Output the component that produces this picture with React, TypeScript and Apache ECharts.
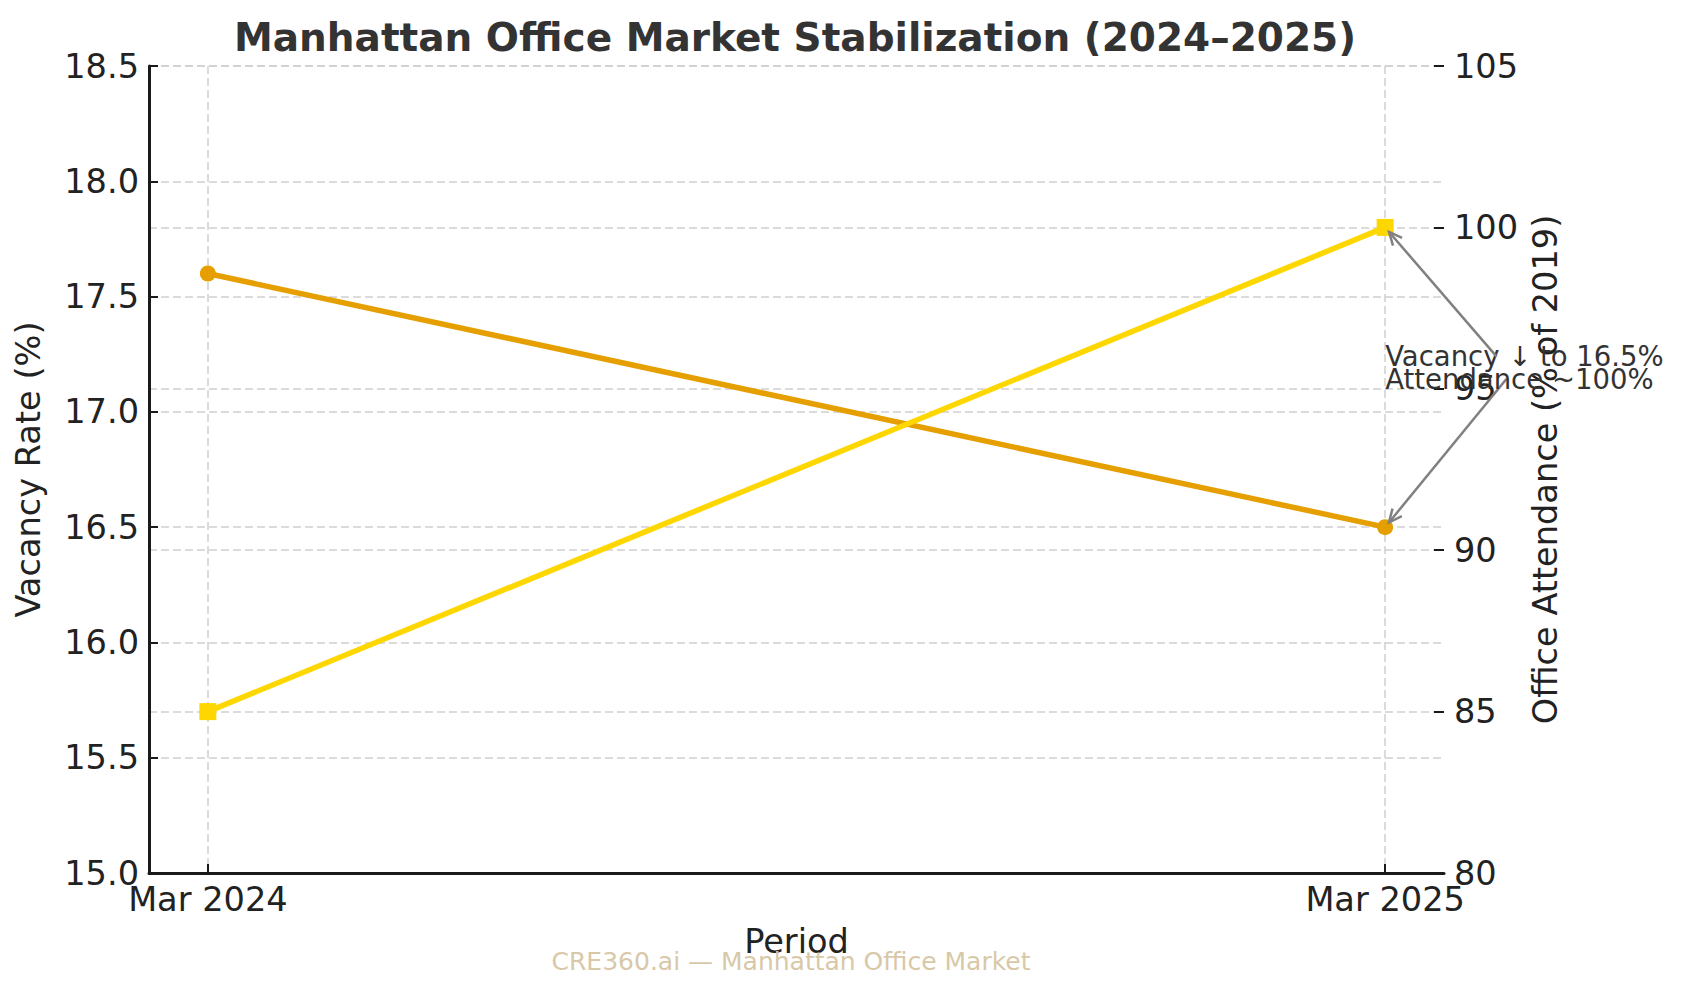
import React, { useEffect, useRef } from 'react';
import * as echarts from 'echarts';

const periods = ['Mar 2024', 'Mar 2025'];
const vacancy = [17.6, 16.5];
const attendance = [85, 100];
const vacancyRange = [15, 18.5, 0.5];
const attendanceRange = [80, 105, 5];

// annotation texts, anchored in data coords (left text baseline), arrow target
const notes = [
	{ text: 'Vacancy \u2193 to 16.5%', at: [1, 17.2], axis: 0, target: [1, 16.5], halfW: 140 },
	{ text: 'Attendance ~100%', at: [1, 95], axis: 1, target: [1, 100], halfW: 131 },
];

const FONT = '"DejaVu Sans", "Noto Sans", sans-serif';
const INK = '#222222';
const BASE = 33.6;
const GRID = { color: '#cfcfcf', type: [8, 4] as number[], width: 1.5 };

const App: React.FC = () => {
	const chartContainer = useRef<HTMLDivElement | null>(null);

	useEffect(() => {
		document.body.style.margin = '0';
		if (!chartContainer.current) return;
		const chart = echarts.init(chartContainer.current, null, { renderer: 'svg' });

		const option: any = {
			animation: false,
			backgroundColor: '#ffffff',
			textStyle: { fontFamily: FONT },
			title: {
				text: 'Manhattan Office Market Stabilization (2024\u20132025)',
				left: 790,
				textAlign: 'center',
				top: 13,
				textStyle: { fontSize: 39, fontWeight: 'bold', color: '#333333', fontFamily: FONT },
			},
			grid: { left: 149, right: 240, top: 66, bottom: 122 },
			xAxis: {
				type: 'value',
				min: -0.05,
				max: 1.05,
				name: 'Period',
				nameLocation: 'middle',
				nameGap: 51,
				nameTextStyle: { fontSize: BASE, color: INK, fontFamily: FONT },
				axisLine: { show: true, onZero: false, lineStyle: { color: '#1a1a1a', width: 3 } },
				axisTick: { show: true, inside: true, length: 9, customValues: [0, 1], lineStyle: { color: '#1a1a1a', width: 2 } },
				axisLabel: {
					customValues: [0, 1],
					fontSize: BASE,
					color: INK,
					margin: 9,
					formatter: (v: number) => periods[Math.round(v)] ?? '',
				},
				splitLine: { show: true, lineStyle: GRID },
			},
			yAxis: [
				{
					type: 'value',
					min: vacancyRange[0],
					max: vacancyRange[1],
					interval: vacancyRange[2],
					name: 'Vacancy Rate (%)',
					nameLocation: 'middle',
					nameRotate: 90,
					nameGap: 104,
					nameTextStyle: { fontSize: BASE, color: INK, fontFamily: FONT },
					axisLine: { show: true, onZero: false, lineStyle: { color: '#1a1a1a', width: 3 } },
					axisTick: { show: true, inside: true, length: 9, lineStyle: { color: '#1a1a1a', width: 2 } },
					axisLabel: { fontSize: BASE, color: INK, margin: 10, formatter: (v: number) => v.toFixed(1) },
					splitLine: { show: true, lineStyle: GRID },
				},
				{
					type: 'value',
					position: 'right',
					min: attendanceRange[0],
					max: attendanceRange[1],
					interval: attendanceRange[2],
					name: 'Office Attendance (% of 2019)',
					nameLocation: 'middle',
					nameRotate: 90,
					nameGap: 77,
					nameTextStyle: { fontSize: BASE, color: INK, fontFamily: FONT },
					axisLine: { show: false, onZero: false },
					axisTick: { show: true, inside: true, length: 10, lineStyle: { color: '#1a1a1a', width: 2 } },
					axisLabel: { fontSize: BASE, color: INK, margin: 10 },
					splitLine: { show: true, lineStyle: GRID },
				},
			],
			series: [
				{
					name: 'Vacancy Rate',
					type: 'line',
					yAxisIndex: 0,
					data: vacancy.map((v, i) => [i, v]),
					symbol: 'circle',
					symbolSize: 16,
					lineStyle: { color: '#E69F00', width: 5.5 },
					itemStyle: { color: '#E69F00' },
					z: 3,
				},
				{
					name: 'Office Attendance',
					type: 'line',
					yAxisIndex: 1,
					data: attendance.map((v, i) => [i, v]),
					symbol: 'rect',
					symbolSize: 17,
					lineStyle: { color: '#FFD700', width: 5.5 },
					itemStyle: { color: '#FFD700' },
					z: 4,
				},
			],
		};

		chart.setOption(option);

		// annotations with arrows, placed through the axes
		const fs = 27.5;
		const graphics: any[] = [];
		notes.forEach((n) => {
			const a = chart.convertToPixel({ xAxisIndex: 0, yAxisIndex: n.axis }, n.at) as number[];
			const tgt = chart.convertToPixel({ xAxisIndex: 0, yAxisIndex: n.axis === 0 ? 0 : 1 }, n.target) as number[];
			const cy = a[1] - 0.35 * fs;
			const cx = a[0] + n.halfW;
			graphics.push({
				type: 'text',
				x: a[0],
				y: cy,
				z: 100,
				style: {
					text: n.text,
					fontSize: fs,
					fontFamily: FONT,
					fill: '#333333',
					align: 'left',
					verticalAlign: 'middle',
					textAlign: 'left',
					textVerticalAlign: 'middle',
				},
			});
			const hh = 22.6;
			const k = hh / Math.abs(tgt[1] - cy);
			const x1 = cx + k * (tgt[0] - cx);
			const y1 = cy + k * (tgt[1] - cy);
			const dx = tgt[0] - x1;
			const dy = tgt[1] - y1;
			const len = Math.hypot(dx, dy);
			const ux = dx / len;
			const uy = dy / len;
			const hx = tgt[0] - ux * 6;
			const hy = tgt[1] - uy * 6;
			const px = -uy;
			const py = ux;
			graphics.push({
				type: 'line',
				z: 100,
				shape: { x1, y1, x2: hx, y2: hy },
				style: { stroke: '#808080', lineWidth: 2.5 },
			});
			graphics.push({
				type: 'polyline',
				z: 100,
				shape: {
					points: [
						[hx - ux * 13 + px * 6, hy - uy * 13 + py * 6],
						[hx, hy],
						[hx - ux * 13 - px * 6, hy - uy * 13 - py * 6],
					],
				},
				style: { stroke: '#808080', lineWidth: 2.5, fill: null },
			});
		});
		graphics.push({
			type: 'text',
			x: 791,
			y: 961,
			z: 100,
			style: {
				text: 'CRE360.ai \u2014 Manhattan Office Market',
				fontSize: 25,
				fontFamily: FONT,
				fill: '#d8c8a8',
				align: 'center',
				verticalAlign: 'middle',
				textAlign: 'center',
				textVerticalAlign: 'middle',
			},
		});
		chart.setOption({ graphic: graphics });

		return () => {
			chart.dispose();
		};
	}, []);

	return <div ref={chartContainer} style={{ width: '1684px', height: '995px' }} />;
};

export default App;
